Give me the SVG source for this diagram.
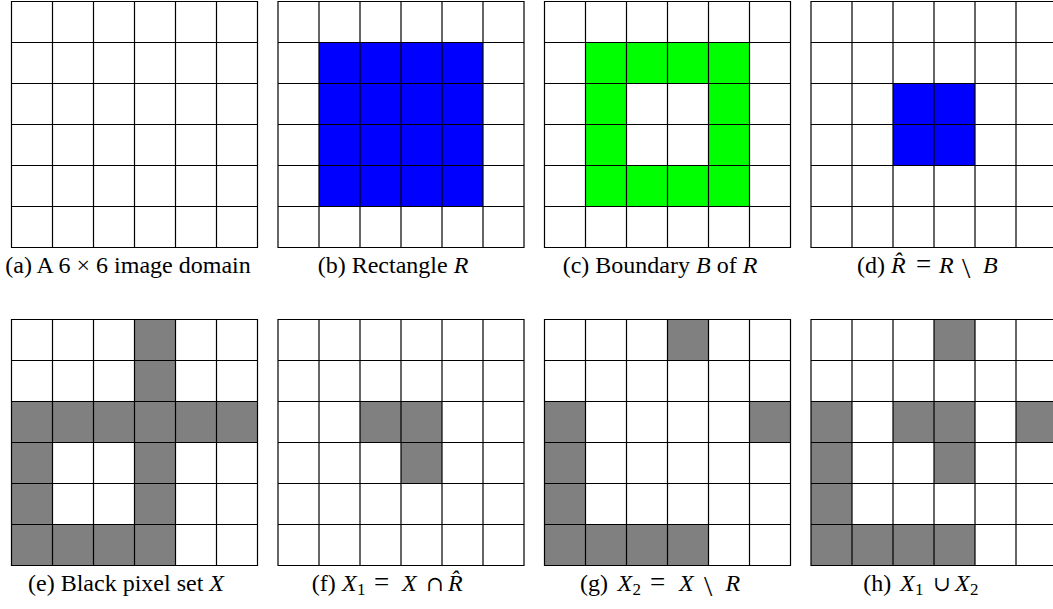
<svg xmlns="http://www.w3.org/2000/svg" width="1053" height="609" viewBox="0 0 1053 609">
<style>
.b{fill:#0000ff}
.g{fill:#00ff00}
.k{fill:#808080}
.grid{fill:none;stroke:#000;stroke-width:1.2}
.cap{font-family:"Liberation Serif","Times New Roman",serif;font-size:24px;fill:#000}
.mid{text-anchor:middle}
.i{font-style:italic}
.sub{font-size:17px}
.eq{font-size:27px}
.op{font-family:"DejaVu Serif",serif;font-size:21px}
.bs{font-size:30px}
</style>
<defs>
<path id="grid" class="grid" d="M0,0H246V246H0Z M41,0V246 M82,0V246 M123,0V246 M164,0V246 M205,0V246 M0,41H246 M0,82H246 M0,123H246 M0,164H246 M0,205H246"/>
</defs>
<rect width="1053" height="609" fill="#fff"/>
<g id="panel-a" transform="translate(11.5,1.5)">
<use href="#grid"/>
</g>
<g id="panel-b" transform="translate(278,1.5)">
<rect class="b" x="41" y="41" width="164" height="164"/>
<use href="#grid"/>
</g>
<g id="panel-c" transform="translate(544.5,1.5)">
<path class="g" fill-rule="evenodd" d="M41,41H205V205H41Z M82,82H164V164H82Z"/>
<use href="#grid"/>
</g>
<g id="panel-d" transform="translate(811,1.5)">
<rect class="b" x="82" y="82" width="82" height="82"/>
<use href="#grid"/>
</g>
<g id="panel-e" transform="translate(11.5,319.5)">
<rect class="k" x="123" y="0" width="41" height="82"/>
<rect class="k" x="0" y="82" width="246" height="41"/>
<rect class="k" x="0" y="123" width="41" height="82"/>
<rect class="k" x="123" y="123" width="41" height="82"/>
<rect class="k" x="0" y="205" width="164" height="41"/>
<use href="#grid"/>
</g>
<g id="panel-f" transform="translate(278,319.5)">
<rect class="k" x="82" y="82" width="82" height="41"/>
<rect class="k" x="123" y="123" width="41" height="41"/>
<use href="#grid"/>
</g>
<g id="panel-g" transform="translate(544.5,319.5)">
<rect class="k" x="123" y="0" width="41" height="41"/>
<rect class="k" x="0" y="82" width="41" height="123"/>
<rect class="k" x="205" y="82" width="41" height="41"/>
<rect class="k" x="0" y="205" width="164" height="41"/>
<use href="#grid"/>
</g>
<g id="panel-h" transform="translate(811,319.5)">
<rect class="k" x="123" y="0" width="41" height="41"/>
<rect class="k" x="0" y="82" width="41" height="123"/>
<rect class="k" x="205" y="82" width="41" height="41"/>
<rect class="k" x="0" y="205" width="164" height="41"/>
<rect class="k" x="82" y="82" width="82" height="41"/>
<rect class="k" x="123" y="123" width="41" height="41"/>
<use href="#grid"/>
</g>
<g id="captions">
<text class="cap mid" x="128" y="273">(a) A 6 × 6 image domain</text>
<text class="cap mid" x="393" y="273">(b) Rectangle <tspan class="i">R</tspan></text>
<text class="cap mid" x="660" y="273">(c) Boundary <tspan class="i">B</tspan> of <tspan class="i">R</tspan></text>
<text class="cap" y="273"><tspan x="857">(d)</tspan><tspan class="i" x="891">R&#x302;</tspan><tspan class="eq" x="916">=</tspan><tspan class="i" x="939">R</tspan><tspan class="bs" x="962" dy="5">\</tspan><tspan class="i" x="983" dy="-5">B</tspan></text>
<text class="cap mid" x="126" y="591">(e) Black pixel set <tspan class="i">X</tspan></text>
<text class="cap" y="591"><tspan x="311.7">(f)</tspan><tspan class="i" x="342">X</tspan><tspan class="sub" x="357" dy="4">1</tspan><tspan class="eq" x="374" dy="-4">=</tspan><tspan class="i" x="402">X</tspan><tspan class="op" x="426">∩</tspan><tspan class="i" x="448">R&#x302;</tspan></text>
<text class="cap" y="591"><tspan x="580">(g)</tspan><tspan class="i" x="617.5">X</tspan><tspan class="sub" x="632.5" dy="4">2</tspan><tspan class="eq" x="650" dy="-4">=</tspan><tspan class="i" x="679">X</tspan><tspan class="bs" x="704" dy="5">\</tspan><tspan class="i" x="725.5" dy="-5">R</tspan></text>
<text class="cap" y="591"><tspan x="863.3">(h)</tspan><tspan class="i" x="900">X</tspan><tspan class="sub" x="915" dy="4">1</tspan><tspan class="op" x="933" dy="-4">∪</tspan><tspan class="i" x="955">X</tspan><tspan class="sub" x="970" dy="4">2</tspan></text>
</g>
</svg>
